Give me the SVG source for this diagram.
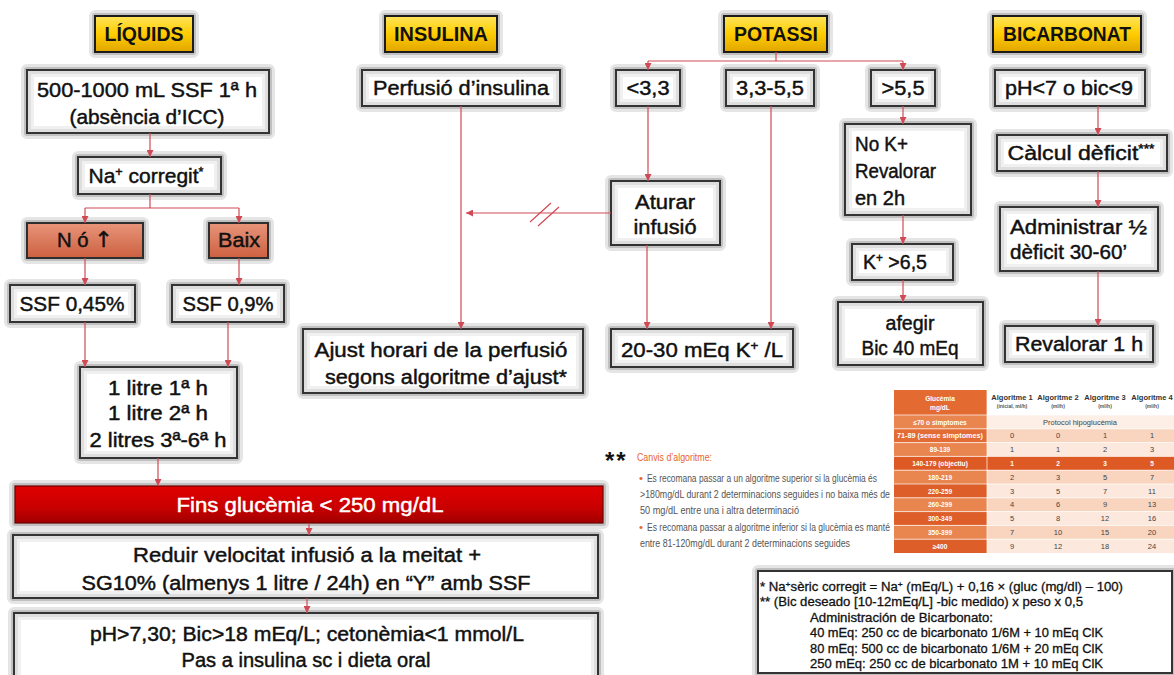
<svg xmlns="http://www.w3.org/2000/svg" width="1174" height="675" viewBox="0 0 1174 675">
<defs>
<style>
.t{font-family:"Liberation Sans",Arial,sans-serif;font-size:20px;fill:#111;stroke:#111;stroke-width:0.45;text-anchor:middle}
.l{text-anchor:start}
.w{fill:#fff;stroke:#fff}
.h{font-family:"Liberation Sans",Arial,sans-serif;font-size:20px;font-weight:bold;fill:#111;text-anchor:middle}
.box{fill:#fff;stroke:#333;stroke-width:2}
.hdr{fill:url(#gy);stroke:#1c1c1c;stroke-width:2}
.sal{fill:url(#gs);stroke:#2e2e2e;stroke-width:2}
.red{fill:url(#gr);stroke:#6b0000;stroke-width:1.2}
.g1{fill:none;stroke:#000;stroke-opacity:0.10;stroke-width:12;stroke-linejoin:round}
.g2{fill:none;stroke:#000;stroke-opacity:0.16;stroke-width:6;stroke-linejoin:round}
.in{fill:none;stroke:#000;stroke-opacity:0.13;stroke-width:3}
.in2{fill:none;stroke:#000;stroke-opacity:0.06;stroke-width:3}
.c{fill:none;stroke:#CF4A55;stroke-width:1.2}
.a{marker-end:url(#ah)}
.sup{font-size:12px}
.tl{font-family:"Liberation Sans",Arial,sans-serif;font-size:6.6px;font-weight:bold;fill:#fff;text-anchor:middle}
.tv{font-family:"Liberation Sans",Arial,sans-serif;font-size:7.5px;fill:#444;text-anchor:middle}
.th{font-family:"Liberation Sans",Arial,sans-serif;font-size:7.5px;font-weight:bold;fill:#333;text-anchor:middle}
.ts{font-family:"Liberation Sans",Arial,sans-serif;font-size:5px;font-weight:bold;fill:#555;text-anchor:middle}
.nt{font-family:"Liberation Sans Narrow","Liberation Sans",Arial,sans-serif;font-size:11.5px;fill:#555}
.or{fill:#E8642C}
.bt{font-family:"Liberation Sans",Arial,sans-serif;font-size:12.5px;fill:#111;stroke:#111;stroke-width:0.3}
.sep{stroke:#fff;stroke-width:0.7}
</style>
<linearGradient id="gy" x1="0" y1="0" x2="0" y2="1">
<stop offset="0" stop-color="#FFE55C"/><stop offset="0.5" stop-color="#FFCC00"/><stop offset="1" stop-color="#E0A500"/>
</linearGradient>
<linearGradient id="gs" x1="0" y1="0" x2="0" y2="1">
<stop offset="0" stop-color="#E8957A"/><stop offset="1" stop-color="#CC6040"/>
</linearGradient>
<linearGradient id="gr" x1="0" y1="0" x2="0" y2="1">
<stop offset="0" stop-color="#E00000"/><stop offset="0.6" stop-color="#C80000"/><stop offset="1" stop-color="#A00000"/>
</linearGradient>
<marker id="ah" markerWidth="7" markerHeight="7" refX="7" refY="3.5" orient="auto" markerUnits="userSpaceOnUse">
<path d="M0,0 L7,3.5 L0,7 z" fill="#CF4A55"/>
</marker>
</defs>
<rect width="1174" height="675" fill="#fff"/>

<g id="h-liquids"><rect class="g1" x="95" y="16" width="98" height="36"/><rect class="g2" x="95" y="16" width="98" height="36"/><rect class="hdr" x="95" y="16" width="98" height="36"/><text class="h" x="144" y="41" textLength="79" lengthAdjust="spacingAndGlyphs">LÍQUIDS</text></g>
<g id="h-insulina"><rect class="g1" x="385" y="16" width="112" height="36"/><rect class="g2" x="385" y="16" width="112" height="36"/><rect class="hdr" x="385" y="16" width="112" height="36"/><text class="h" x="441" y="41" textLength="94" lengthAdjust="spacingAndGlyphs">INSULINA</text></g>
<g id="h-potassi"><rect class="g1" x="724" y="16" width="103" height="36"/><rect class="g2" x="724" y="16" width="103" height="36"/><rect class="hdr" x="724" y="16" width="103" height="36"/><text class="h" x="776" y="41" textLength="84" lengthAdjust="spacingAndGlyphs">POTASSI</text></g>
<g id="h-bicarbonat"><rect class="g1" x="993" y="16" width="148" height="36"/><rect class="g2" x="993" y="16" width="148" height="36"/><rect class="hdr" x="993" y="16" width="148" height="36"/><text class="h" x="1067" y="41" textLength="128" lengthAdjust="spacingAndGlyphs">BICARBONAT</text></g>

<g id="n-ssf1h"><rect class="g1" x="27" y="70" width="242" height="63"/><rect class="g2" x="27" y="70" width="242" height="63"/><rect class="box" x="27" y="70" width="242" height="63"/><rect class="in" x="29.5" y="72.5" width="237" height="58"/><rect class="in2" x="32.5" y="75.5" width="231" height="52"/>
<text class="t" x="147" y="97" textLength="220" lengthAdjust="spacingAndGlyphs">500-1000 mL SSF 1ª h</text>
<text class="t" x="147" y="124" textLength="155" lengthAdjust="spacingAndGlyphs">(absència d’ICC)</text></g>
<g id="n-na"><rect class="g1" x="78" y="157" width="143" height="37"/><rect class="g2" x="78" y="157" width="143" height="37"/><rect class="box" x="78" y="157" width="143" height="37"/><rect class="in" x="80.5" y="159.5" width="138" height="32"/><rect class="in2" x="83.5" y="162.5" width="132" height="26"/>
<text class="t" x="146" y="183" textLength="115" lengthAdjust="spacingAndGlyphs">Na<tspan class="sup" baseline-shift="super">+</tspan> corregit<tspan class="sup" baseline-shift="super">*</tspan></text></g>
<g id="n-nup"><rect class="g1" x="27" y="223" width="116" height="35"/><rect class="g2" x="27" y="223" width="116" height="35"/><rect class="sal" x="27" y="223" width="116" height="35"/>
<text class="t" x="85" y="247" textLength="56" lengthAdjust="spacingAndGlyphs">N ó <tspan font-family="DejaVu Sans, sans-serif" font-size="22">↑</tspan></text></g>
<g id="n-baix"><rect class="g1" x="209" y="223" width="59" height="35"/><rect class="g2" x="209" y="223" width="59" height="35"/><rect class="sal" x="209" y="223" width="59" height="35"/>
<text class="t" x="239" y="247" textLength="42" lengthAdjust="spacingAndGlyphs">Baix</text></g>
<g id="n-ssf045"><rect class="g1" x="10" y="285" width="125" height="37"/><rect class="g2" x="10" y="285" width="125" height="37"/><rect class="box" x="10" y="285" width="125" height="37"/><rect class="in" x="12.5" y="287.5" width="120" height="32"/><rect class="in2" x="15.5" y="290.5" width="114" height="26"/>
<text class="t" x="72" y="311" textLength="105" lengthAdjust="spacingAndGlyphs">SSF 0,45%</text></g>
<g id="n-ssf09"><rect class="g1" x="172" y="285" width="112" height="37"/><rect class="g2" x="172" y="285" width="112" height="37"/><rect class="box" x="172" y="285" width="112" height="37"/><rect class="in" x="174.5" y="287.5" width="107" height="32"/><rect class="in2" x="177.5" y="290.5" width="101" height="26"/>
<text class="t" x="228" y="311" textLength="91" lengthAdjust="spacingAndGlyphs">SSF 0,9%</text></g>
<g id="n-litres"><rect class="g1" x="80" y="367" width="157" height="91"/><rect class="g2" x="80" y="367" width="157" height="91"/><rect class="box" x="80" y="367" width="157" height="91"/><rect class="in" x="82.5" y="369.5" width="152" height="86"/><rect class="in2" x="85.5" y="372.5" width="146" height="80"/>
<text class="t" x="158" y="395" textLength="100" lengthAdjust="spacingAndGlyphs">1 litre 1ª h</text>
<text class="t" x="158" y="420" textLength="100" lengthAdjust="spacingAndGlyphs">1 litre 2ª h</text>
<text class="t" x="158" y="447" textLength="137" lengthAdjust="spacingAndGlyphs">2 litres 3ª-6ª h</text></g>
<g id="n-fins"><rect class="g1" x="15" y="486" width="588" height="37"/><rect class="g2" x="15" y="486" width="588" height="37"/><rect class="red" x="15" y="486" width="588" height="37"/>
<text class="t w" x="310" y="512" textLength="267" lengthAdjust="spacingAndGlyphs">Fins glucèmia &lt; 250 mg/dL</text></g>
<g id="n-reduir"><rect class="g1" x="13" y="535" width="585" height="63"/><rect class="g2" x="13" y="535" width="585" height="63"/><rect class="box" x="13" y="535" width="585" height="63"/><rect class="in" x="15.5" y="537.5" width="580" height="58"/><rect class="in2" x="18.5" y="540.5" width="574" height="52"/>
<text class="t" x="307" y="562" textLength="348" lengthAdjust="spacingAndGlyphs">Reduir velocitat infusió a la meitat +</text>
<text class="t" x="306" y="590" textLength="449" lengthAdjust="spacingAndGlyphs">SG10% (almenys 1 litre / 24h) en “Y” amb SSF</text></g>
<g id="n-ph"><rect class="g1" x="14" y="613" width="584" height="80"/><rect class="g2" x="14" y="613" width="584" height="80"/><rect class="box" x="14" y="613" width="584" height="80"/><rect class="in" x="16.5" y="615.5" width="579" height="75"/><rect class="in2" x="19.5" y="618.5" width="573" height="69"/>
<text class="t" x="307" y="641" textLength="434" lengthAdjust="spacingAndGlyphs">pH&gt;7,30; Bic&gt;18 mEq/L; cetonèmia&lt;1 mmol/L</text>
<text class="t" x="306" y="667" textLength="249" lengthAdjust="spacingAndGlyphs">Pas a insulina sc i dieta oral</text></g>

<g id="n-perfusio"><rect class="g1" x="362" y="70" width="198" height="36"/><rect class="g2" x="362" y="70" width="198" height="36"/><rect class="box" x="362" y="70" width="198" height="36"/><rect class="in" x="364.5" y="72.5" width="193" height="31"/><rect class="in2" x="367.5" y="75.5" width="187" height="25"/>
<text class="t" x="461" y="95" textLength="176" lengthAdjust="spacingAndGlyphs">Perfusió d’insulina</text></g>
<g id="n-ajust"><rect class="g1" x="303" y="329" width="280" height="64"/><rect class="g2" x="303" y="329" width="280" height="64"/><rect class="box" x="303" y="329" width="280" height="64"/><rect class="in" x="305.5" y="331.5" width="275" height="59"/><rect class="in2" x="308.5" y="334.5" width="269" height="53"/>
<text class="t" x="441" y="357" textLength="253" lengthAdjust="spacingAndGlyphs">Ajust horari de la perfusió</text>
<text class="t" x="446" y="384" textLength="242" lengthAdjust="spacingAndGlyphs">segons algoritme d’ajust*</text></g>

<g id="n-k33"><rect class="g1" x="616" y="70" width="64" height="36"/><rect class="g2" x="616" y="70" width="64" height="36"/><rect class="box" x="616" y="70" width="64" height="36"/><rect class="in" x="618.5" y="72.5" width="59" height="31"/><rect class="in2" x="621.5" y="75.5" width="53" height="25"/>
<text class="t" x="648" y="95" textLength="43" lengthAdjust="spacingAndGlyphs">&lt;3,3</text></g>
<g id="n-k3355"><rect class="g1" x="726" y="70" width="88" height="36"/><rect class="g2" x="726" y="70" width="88" height="36"/><rect class="box" x="726" y="70" width="88" height="36"/><rect class="in" x="728.5" y="72.5" width="83" height="31"/><rect class="in2" x="731.5" y="75.5" width="77" height="25"/>
<text class="t" x="770" y="95" textLength="68" lengthAdjust="spacingAndGlyphs">3,3-5,5</text></g>
<g id="n-k55"><rect class="g1" x="871" y="70" width="64" height="36"/><rect class="g2" x="871" y="70" width="64" height="36"/><rect class="box" x="871" y="70" width="64" height="36"/><rect class="in" x="873.5" y="72.5" width="59" height="31"/><rect class="in2" x="876.5" y="75.5" width="53" height="25"/>
<text class="t" x="903" y="95" textLength="43" lengthAdjust="spacingAndGlyphs">&gt;5,5</text></g>
<g id="n-aturar"><rect class="g1" x="611" y="181" width="109" height="64"/><rect class="g2" x="611" y="181" width="109" height="64"/><rect class="box" x="611" y="181" width="109" height="64"/><rect class="in" x="613.5" y="183.5" width="104" height="59"/><rect class="in2" x="616.5" y="186.5" width="98" height="53"/>
<text class="t" x="665" y="209" textLength="60" lengthAdjust="spacingAndGlyphs">Aturar</text>
<text class="t" x="665" y="234" textLength="63" lengthAdjust="spacingAndGlyphs">infusió</text></g>
<g id="n-2030"><rect class="g1" x="611" y="329" width="182" height="38"/><rect class="g2" x="611" y="329" width="182" height="38"/><rect class="box" x="611" y="329" width="182" height="38"/><rect class="in" x="613.5" y="331.5" width="177" height="33"/><rect class="in2" x="616.5" y="334.5" width="171" height="27"/>
<text class="t" x="702" y="357" textLength="162" lengthAdjust="spacingAndGlyphs">20-30 mEq K<tspan class="sup" baseline-shift="super">+</tspan> /L</text></g>
<g id="n-nok"><rect class="g1" x="845" y="124" width="126" height="91"/><rect class="g2" x="845" y="124" width="126" height="91"/><rect class="box" x="845" y="124" width="126" height="91"/><rect class="in" x="847.5" y="126.5" width="121" height="86"/><rect class="in2" x="850.5" y="129.5" width="115" height="80"/>
<text class="t l" x="855" y="151" textLength="53" lengthAdjust="spacingAndGlyphs">No K+</text>
<text class="t l" x="855" y="178" textLength="81" lengthAdjust="spacingAndGlyphs">Revalorar</text>
<text class="t l" x="855" y="205" textLength="50" lengthAdjust="spacingAndGlyphs">en 2h</text></g>
<g id="n-k65"><rect class="g1" x="852" y="244" width="101" height="36"/><rect class="g2" x="852" y="244" width="101" height="36"/><rect class="box" x="852" y="244" width="101" height="36"/><rect class="in" x="854.5" y="246.5" width="96" height="31"/><rect class="in2" x="857.5" y="249.5" width="90" height="25"/>
<text class="t l" x="863" y="269" textLength="64" lengthAdjust="spacingAndGlyphs">K<tspan class="sup" baseline-shift="super">+</tspan> &gt;6,5</text></g>
<g id="n-afegir"><rect class="g1" x="838" y="302" width="145" height="63"/><rect class="g2" x="838" y="302" width="145" height="63"/><rect class="box" x="838" y="302" width="145" height="63"/><rect class="in" x="840.5" y="304.5" width="140" height="58"/><rect class="in2" x="843.5" y="307.5" width="134" height="52"/>
<text class="t" x="910" y="330" textLength="49" lengthAdjust="spacingAndGlyphs">afegir</text>
<text class="t" x="910" y="355" textLength="97" lengthAdjust="spacingAndGlyphs">Bic 40 mEq</text></g>

<g id="n-ph7"><rect class="g1" x="995" y="70" width="150" height="36"/><rect class="g2" x="995" y="70" width="150" height="36"/><rect class="box" x="995" y="70" width="150" height="36"/><rect class="in" x="997.5" y="72.5" width="145" height="31"/><rect class="in2" x="1000.5" y="75.5" width="139" height="25"/>
<text class="t" x="1069" y="95" textLength="128" lengthAdjust="spacingAndGlyphs">pH&lt;7 o bic&lt;9</text></g>
<g id="n-calcul"><rect class="g1" x="997" y="135" width="170" height="36"/><rect class="g2" x="997" y="135" width="170" height="36"/><rect class="box" x="997" y="135" width="170" height="36"/><rect class="in" x="999.5" y="137.5" width="165" height="31"/><rect class="in2" x="1002.5" y="140.5" width="159" height="25"/>
<text class="t" x="1081" y="160" textLength="147" lengthAdjust="spacingAndGlyphs">Càlcul dèficit<tspan class="sup" baseline-shift="super">***</tspan></text></g>
<g id="n-admin"><rect class="g1" x="1000" y="207" width="158" height="64"/><rect class="g2" x="1000" y="207" width="158" height="64"/><rect class="box" x="1000" y="207" width="158" height="64"/><rect class="in" x="1002.5" y="209.5" width="153" height="59"/><rect class="in2" x="1005.5" y="212.5" width="147" height="53"/>
<text class="t l" x="1010" y="234" textLength="137" lengthAdjust="spacingAndGlyphs">Administrar ½</text>
<text class="t l" x="1010" y="259" textLength="117" lengthAdjust="spacingAndGlyphs">dèficit 30-60’</text></g>
<g id="n-reval"><rect class="g1" x="1005" y="326" width="148" height="36"/><rect class="g2" x="1005" y="326" width="148" height="36"/><rect class="box" x="1005" y="326" width="148" height="36"/><rect class="in" x="1007.5" y="328.5" width="143" height="31"/><rect class="in2" x="1010.5" y="331.5" width="137" height="25"/>
<text class="t" x="1079" y="351" textLength="128" lengthAdjust="spacingAndGlyphs">Revalorar 1 h</text></g>

<g id="connectors">
<path class="c a" d="M150,133 V157"/>
<path class="c" d="M150,194 V208 M85,208 H239"/>
<path class="c a" d="M85,208 V223"/>
<path class="c a" d="M239,208 V223"/>
<path class="c a" d="M85,258 V285"/>
<path class="c a" d="M239,258 V285"/>
<path class="c a" d="M85,322 V367"/>
<path class="c a" d="M228,322 V367"/>
<path class="c a" d="M158,458 V486"/>
<path class="c a" d="M309,523 V535"/>
<path class="c a" d="M307,598 V613"/>
<path class="c a" d="M461,106 V329"/>
<path class="c a" d="M611,213 H466"/>
<path class="c" d="M530,222 L551,203 M538,226 L559,207"/>
<path class="c" d="M776,52 V61 M648,61 H903"/>
<path class="c a" d="M648,61 V70"/>
<path class="c a" d="M903,61 V70"/>
<path class="c a" d="M648,106 V181"/>
<path class="c a" d="M647,245 V329"/>
<path class="c a" d="M771,106 V329"/>
<path class="c a" d="M903,106 V124"/>
<path class="c a" d="M903,215 V244"/>
<path class="c a" d="M903,280 V302"/>
<path class="c a" d="M1098,106 V135"/>
<path class="c a" d="M1098,171 V207"/>
<path class="c a" d="M1098,271 V326"/>
</g>

<g id="table">
<rect x="894" y="390" width="93" height="25" fill="#E36A30"/>
<rect x="987" y="390" width="187" height="25" fill="#fff"/>
<text class="tl" x="940" y="401">Glucèmia</text>
<text class="tl" x="940" y="410">mg/dL</text>
<text class="th" x="1012" y="400">Algoritme 1</text><text class="ts" x="1012" y="408">(inicial, ml/h)</text>
<text class="th" x="1058" y="400">Algoritme 2</text><text class="ts" x="1058" y="408">(ml/h)</text>
<text class="th" x="1105" y="400">Algoritme 3</text><text class="ts" x="1105" y="408">(ml/h)</text>
<text class="th" x="1152" y="400">Algoritme 4</text><text class="ts" x="1152" y="408">(ml/h)</text>

<rect x="894" y="415" width="93" height="13.8" fill="#E9854F"/><rect x="987" y="415" width="187" height="13.8" fill="#FDEEE6"/>
<rect x="894" y="428.8" width="93" height="13.8" fill="#E36B34"/><rect x="987" y="428.8" width="187" height="13.8" fill="#F9D5BF"/>
<rect x="894" y="442.6" width="93" height="13.8" fill="#E9854F"/><rect x="987" y="442.6" width="187" height="13.8" fill="#FCE8DC"/>
<rect x="894" y="456.4" width="280" height="13.8" fill="#DD5A25"/>
<rect x="894" y="470.2" width="93" height="13.8" fill="#E9854F"/><rect x="987" y="470.2" width="187" height="13.8" fill="#F9D5BF"/>
<rect x="894" y="484" width="93" height="13.8" fill="#DE5E29"/><rect x="987" y="484" width="187" height="13.8" fill="#FCE8DC"/>
<rect x="894" y="497.8" width="93" height="13.8" fill="#E9854F"/><rect x="987" y="497.8" width="187" height="13.8" fill="#F9D5BF"/>
<rect x="894" y="511.6" width="93" height="13.8" fill="#DE5E29"/><rect x="987" y="511.6" width="187" height="13.8" fill="#FCE8DC"/>
<rect x="894" y="525.4" width="93" height="13.8" fill="#E9854F"/><rect x="987" y="525.4" width="187" height="13.8" fill="#F9D5BF"/>
<rect x="894" y="539.2" width="93" height="13.8" fill="#DE5E29"/><rect x="987" y="539.2" width="187" height="13.8" fill="#FCE8DC"/>
<path class="sep" d="M894,415 H1174 M894,428.8 H1174 M894,442.6 H1174 M894,456.4 H1174 M894,470.2 H1174 M894,484 H1174 M894,497.8 H1174 M894,511.6 H1174 M894,525.4 H1174 M894,539.2 H1174 M987,390 V553"/>

<text class="tl" x="940" y="424.5">≤70 o simptomes</text><text class="tv" x="1080" y="424.5">Protocol hipoglucèmia</text>
<text class="tl" x="940" y="438.3" textLength="86" lengthAdjust="spacingAndGlyphs">71-89 (sense simptomes)</text><text class="tv" x="1012" y="438.3">0</text><text class="tv" x="1058" y="438.3">0</text><text class="tv" x="1105" y="438.3">1</text><text class="tv" x="1152" y="438.3">1</text>
<text class="tl" x="940" y="452.1">89-139</text><text class="tv" x="1012" y="452.1">1</text><text class="tv" x="1058" y="452.1">1</text><text class="tv" x="1105" y="452.1">2</text><text class="tv" x="1152" y="452.1">3</text>
<text class="tl" x="940" y="465.9">140-179 (objectiu)</text><text class="tl" x="1012" y="465.9">1</text><text class="tl" x="1058" y="465.9">2</text><text class="tl" x="1105" y="465.9">3</text><text class="tl" x="1152" y="465.9">5</text>
<text class="tl" x="940" y="479.7">180-219</text><text class="tv" x="1012" y="479.7">2</text><text class="tv" x="1058" y="479.7">3</text><text class="tv" x="1105" y="479.7">5</text><text class="tv" x="1152" y="479.7">7</text>
<text class="tl" x="940" y="493.5">220-259</text><text class="tv" x="1012" y="493.5">3</text><text class="tv" x="1058" y="493.5">5</text><text class="tv" x="1105" y="493.5">7</text><text class="tv" x="1152" y="493.5">11</text>
<text class="tl" x="940" y="507.3">260-299</text><text class="tv" x="1012" y="507.3">4</text><text class="tv" x="1058" y="507.3">6</text><text class="tv" x="1105" y="507.3">9</text><text class="tv" x="1152" y="507.3">13</text>
<text class="tl" x="940" y="521.1">300-349</text><text class="tv" x="1012" y="521.1">5</text><text class="tv" x="1058" y="521.1">8</text><text class="tv" x="1105" y="521.1">12</text><text class="tv" x="1152" y="521.1">16</text>
<text class="tl" x="940" y="534.9">350-399</text><text class="tv" x="1012" y="534.9">7</text><text class="tv" x="1058" y="534.9">10</text><text class="tv" x="1105" y="534.9">15</text><text class="tv" x="1152" y="534.9">20</text>
<text class="tl" x="940" y="548.7">≥400</text><text class="tv" x="1012" y="548.7">9</text><text class="tv" x="1058" y="548.7">12</text><text class="tv" x="1105" y="548.7">18</text><text class="tv" x="1152" y="548.7">24</text>
</g>

<g id="notes">
<text x="605" y="469" font-family="Liberation Sans, Arial, sans-serif" font-size="24" font-weight="bold" fill="#111" letter-spacing="2">**</text>
<text class="nt or" x="637" y="461" textLength="75" lengthAdjust="spacingAndGlyphs">Canvis d’algoritme:</text>
<text class="nt or" x="639" y="482">•</text>
<text class="nt" x="647" y="482" textLength="230" lengthAdjust="spacingAndGlyphs">Es recomana passar a un algoritme superior si la glucèmia és</text>
<text class="nt" x="640" y="498" textLength="250" lengthAdjust="spacingAndGlyphs">&gt;180mg/dL durant 2 determinacions seguides i no baixa més de</text>
<text class="nt" x="640" y="514" textLength="159" lengthAdjust="spacingAndGlyphs">50 mg/dL entre una i altra determinació</text>
<text class="nt or" x="639" y="531">•</text>
<text class="nt" x="647" y="531" textLength="243" lengthAdjust="spacingAndGlyphs">Es recomana passar a algoritme inferior si la glucèmia es manté</text>
<text class="nt" x="640" y="547" textLength="210" lengthAdjust="spacingAndGlyphs">entre 81-120mg/dL durant 2 determinacions seguides</text>
</g>

<g id="formula-box">
<rect class="g1" x="758" y="571" width="414" height="102"/><rect class="g2" x="758" y="571" width="414" height="102"/>
<rect class="box" x="758" y="571" width="414" height="102" stroke-width="1.8"/>
<text class="bt" x="760" y="591" textLength="363" lengthAdjust="spacingAndGlyphs">* Na<tspan font-size="8" baseline-shift="super">+</tspan>sèric corregit = Na<tspan font-size="8" baseline-shift="super">+</tspan> (mEq/L) + 0,16 × (gluc (mg/dl) – 100)</text>
<text class="bt" x="760" y="606" textLength="323" lengthAdjust="spacingAndGlyphs">** (Bic deseado  [10-12mEq/L] -bic medido) x peso x 0,5</text>
<text class="bt" x="810" y="622" textLength="183" lengthAdjust="spacingAndGlyphs">Administración de Bicarbonato:</text>
<text class="bt" x="810" y="637" textLength="293" lengthAdjust="spacingAndGlyphs">40 mEq: 250 cc de bicarbonato 1/6M + 10 mEq ClK</text>
<text class="bt" x="810" y="653" textLength="293" lengthAdjust="spacingAndGlyphs">80 mEq: 500 cc de bicarbonato 1/6M + 20 mEq ClK</text>
<text class="bt" x="810" y="668" textLength="293" lengthAdjust="spacingAndGlyphs">250 mEq: 250 cc de bicarbonato 1M + 10 mEq ClK</text>
</g>
</svg>
